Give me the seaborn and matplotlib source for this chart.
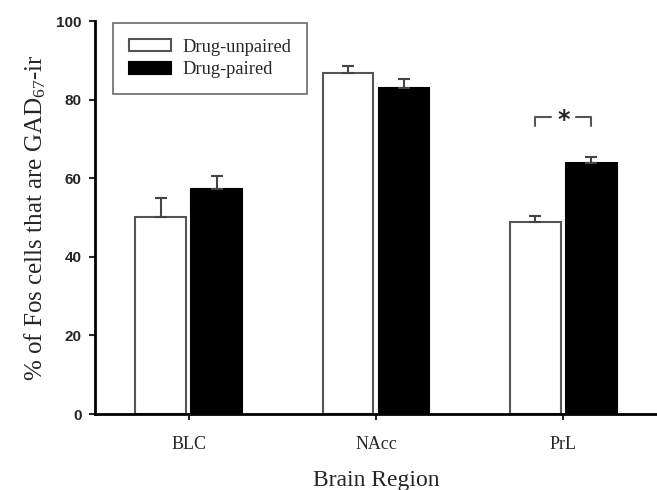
import numpy as np
import pandas as pd
import matplotlib
matplotlib.use("Agg")
import matplotlib.pyplot as plt
import seaborn as sns

# ======================================
# Data
# ======================================

regions = ["BLC", "NAcc", "PrL"]
groups = ["Drug-unpaired", "Drug-paired"]

unpaired_mean = [50.2, 86.9, 48.8]
unpaired_sem = [4.8, 1.6, 1.6]
paired_mean = [57.2, 82.9, 63.9]
paired_sem = [3.4, 2.4, 1.6]

sig_region = "PrL"
sig_bracket_low = 73.3
sig_bracket_high = 75.5

df = pd.DataFrame({
    "Region": regions * 2,
    "Group": [groups[0]] * len(regions) + [groups[1]] * len(regions),
    "Percent": unpaired_mean + paired_mean,
})

# ======================================
# Style
# ======================================

sns.set_style("ticks")
plt.rcParams["font.family"] = ["Liberation Serif", "DejaVu Serif"]
plt.rcParams["mathtext.fontset"] = "custom"
plt.rcParams["mathtext.rm"] = "Liberation Serif"
plt.rcParams["mathtext.it"] = "Liberation Serif:italic"

fig = plt.figure(figsize=(6.57, 4.9), dpi=100)
ax = fig.add_axes([0.1446, 0.155, 0.8554, 0.802])

sns.barplot(
    data=df,
    x="Region",
    y="Percent",
    hue="Group",
    hue_order=groups,
    order=regions,
    palette={groups[0]: "white", groups[1]: "black"},
    width=0.6,
    gap=0.1,
    errorbar=None,
    linewidth=1.5,
    ax=ax,
)

edge_colors = ["#555555", "black"]
for container, ec in zip(ax.containers, edge_colors):
    for patch in container:
        patch.set_edgecolor(ec)

# upper-only error bars
for container, sem in zip(ax.containers, [unpaired_sem, paired_sem]):
    xs = [p.get_x() + p.get_width() / 2 for p in container]
    tops = [p.get_height() for p in container]
    ax.errorbar(
        xs, tops,
        yerr=[np.zeros(len(sem)), sem],
        fmt="none",
        ecolor="#444444",
        elinewidth=1.5,
        capsize=4,
        capthick=1.5,
        zorder=3,
    )

# significance bracket over PrL
i = regions.index(sig_region)
x0 = ax.containers[0][i].get_x() + ax.containers[0][i].get_width() / 2
x1 = ax.containers[1][i].get_x() + ax.containers[1][i].get_width() / 2
xm = (x0 + x1) / 2
gap = 0.065
ax.plot([x0, x0, xm - gap], [sig_bracket_low, sig_bracket_high, sig_bracket_high],
        color="#555555", lw=1.5)
ax.plot([xm + gap, x1, x1], [sig_bracket_high, sig_bracket_high, sig_bracket_low],
        color="#555555", lw=1.5)
ax.text(xm, sig_bracket_high - 0.6, "*", ha="center", va="center",
        fontsize=17, fontweight="bold", family="DejaVu Sans")

# ======================================
# Axes
# ======================================

ax.set_ylim(0, 100)
ax.set_yticks(range(0, 101, 20))
ax.set_xlim(-0.5, len(regions) - 0.5)

for side in ["top", "right"]:
    ax.spines[side].set_visible(False)
for side in ["left", "bottom"]:
    ax.spines[side].set_linewidth(2)
    ax.spines[side].set_color("black")

ax.tick_params(axis="y", length=4, width=1.5, pad=5.5, labelsize=11)
ax.tick_params(axis="x", length=4, width=1.5, pad=12, labelsize=13)
for lbl in ax.get_yticklabels():
    lbl.set_family("Liberation Sans")
    lbl.set_fontweight("bold")

ax.set_xlabel("Brain Region", fontsize=17, labelpad=12)
ax.set_ylabel("% of Fos cells that are GAD$_{67}$-ir", fontsize=18, labelpad=6)

leg = ax.legend(
    loc="upper left",
    bbox_to_anchor=(0.032, 0.995),
    borderaxespad=0,
    fontsize=13.3,
    frameon=True,
    fancybox=False,
    handlelength=2.3,
    handleheight=0.6,
    handletextpad=0.6,
    borderpad=0.85,
    labelspacing=0.3,
    title=None,
)
leg.get_frame().set_edgecolor("#444444")
leg.get_frame().set_linewidth(1.2)
for handle, ec in zip(leg.legend_handles, edge_colors):
    handle.set_edgecolor(ec)
    handle.set_linewidth(1.5)

plt.savefig("out.png", dpi=100)
